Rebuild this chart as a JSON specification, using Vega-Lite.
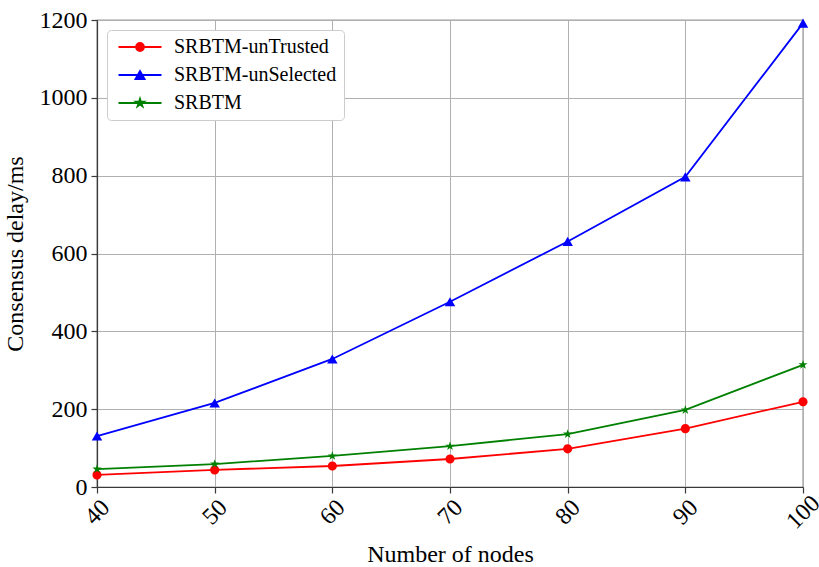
{
  "$schema": "https://vega.github.io/schema/vega-lite/v6.json",
  "width": 706,
  "height": 467,
  "autosize": {"type": "none"},
  "padding": {"left": 97, "top": 20, "right": 16, "bottom": 80},
  "background": "white",
  "config": {
    "font": "Liberation Serif",
    "style": {
      "guide-label": {"font": "Liberation Serif", "fill": "#000000"},
      "guide-title": {"font": "Liberation Serif"}
    },
    "view": {"stroke": "#3a3a3a", "strokeWidth": 1.2},
    "axis": {
      "grid": true,
      "gridColor": "#b0b0b0",
      "gridWidth": 1,
      "domainColor": "#3a3a3a",
      "domainWidth": 1.2,
      "tickColor": "#3a3a3a",
      "tickSize": 6,
      "tickWidth": 1.2,
      "titleFont": "Liberation Serif",
      "titleFontSize": 24,
      "titleFontWeight": "normal",
      "titleColor": "#000000",
      "labelFlush": false,
      "labelOverlap": false,
      "labelBound": false
    },
    "legend": {
      "title": null,
      "orient": "top-left",
      "offset": 10,
      "padding": 7,
      "fillColor": "#ffffff",
      "strokeColor": "#cccccc",
      "cornerRadius": 4,
      "labelFont": "Liberation Serif",
      "labelFontSize": 20,
      "labelColor": "#000000",
      "labelLimit": 400,
      "symbolSize": 100,
      "symbolStrokeWidth": 1.8,
      "symbolOffset": 16,
      "labelOffset": 24,
      "rowPadding": 8
    }
  },
  "data": {
    "values": [
      {"nodes": 40, "series": "SRBTM-unTrusted", "delay": 31},
      {"nodes": 50, "series": "SRBTM-unTrusted", "delay": 44},
      {"nodes": 60, "series": "SRBTM-unTrusted", "delay": 54},
      {"nodes": 70, "series": "SRBTM-unTrusted", "delay": 72},
      {"nodes": 80, "series": "SRBTM-unTrusted", "delay": 98},
      {"nodes": 90, "series": "SRBTM-unTrusted", "delay": 150},
      {"nodes": 100, "series": "SRBTM-unTrusted", "delay": 219},
      {"nodes": 40, "series": "SRBTM-unSelected", "delay": 131},
      {"nodes": 50, "series": "SRBTM-unSelected", "delay": 216},
      {"nodes": 60, "series": "SRBTM-unSelected", "delay": 329},
      {"nodes": 70, "series": "SRBTM-unSelected", "delay": 476},
      {"nodes": 80, "series": "SRBTM-unSelected", "delay": 631},
      {"nodes": 90, "series": "SRBTM-unSelected", "delay": 797},
      {"nodes": 100, "series": "SRBTM-unSelected", "delay": 1192},
      {"nodes": 40, "series": "SRBTM", "delay": 46},
      {"nodes": 50, "series": "SRBTM", "delay": 59},
      {"nodes": 60, "series": "SRBTM", "delay": 80},
      {"nodes": 70, "series": "SRBTM", "delay": 105},
      {"nodes": 80, "series": "SRBTM", "delay": 136},
      {"nodes": 90, "series": "SRBTM", "delay": 198},
      {"nodes": 100, "series": "SRBTM", "delay": 314}
    ]
  },
  "encoding": {
    "x": {
      "field": "nodes",
      "type": "quantitative",
      "scale": {"domain": [40, 100], "nice": false, "zero": false},
      "axis": {
        "title": "Number of nodes",
        "values": [40, 50, 60, 70, 80, 90, 100],
        "format": "d",
        "labelFont": "Liberation Serif",
        "labelFontSize": 24,
        "labelColor": "#000000",
        "labelAngle": -45,
        "labelAlign": "center",
        "labelBaseline": "middle",
        "labelPadding": 19,
        "titlePadding": 9,
        "encode": {
          "labels": {
            "font": {"value": "Liberation Serif"},
            "fontSize": {"value": 24}
          }
        }
      }
    },
    "y": {
      "field": "delay",
      "type": "quantitative",
      "scale": {"domain": [0, 1200], "nice": false},
      "axis": {
        "title": "Consensus delay/ms",
        "values": [0, 200, 400, 600, 800, 1000, 1200],
        "format": "d",
        "labelFont": "Liberation Serif",
        "labelFontSize": 24,
        "labelColor": "#000000",
        "labelPadding": 4,
        "titlePadding": 12,
        "encode": {
          "labels": {
            "font": {"value": "Liberation Serif"},
            "fontSize": {"value": 24}
          }
        }
      }
    }
  },
  "layer": [
    {
      "mark": {"type": "line", "strokeWidth": 1.8},
      "encoding": {
        "stroke": {
          "field": "series",
          "type": "nominal",
          "scale": {
            "domain": ["SRBTM-unTrusted", "SRBTM-unSelected", "SRBTM"],
            "range": ["#ff0000", "#0000ff", "#008000"]
          },
          "legend": {"labelExpr": "datum.label + '   '"}
        }
      }
    },
    {
      "mark": {"type": "point", "filled": true, "opacity": 1, "strokeWidth": 0, "size": 130},
      "encoding": {
        "fill": {
          "field": "series",
          "type": "nominal",
          "scale": {
            "domain": ["SRBTM-unTrusted", "SRBTM-unSelected", "SRBTM"],
            "range": ["#ff0000", "#0000ff", "#008000"]
          },
          "legend": {"labelExpr": "datum.label + '   '"}
        },
        "shape": {
          "field": "series",
          "type": "nominal",
          "scale": {
            "domain": ["SRBTM-unTrusted", "SRBTM-unSelected", "SRBTM"],
            "range": [
              "M-4.3,0H4.3M-0.8,0A0.8,0.8 0 1,1 0.8,0A0.8,0.8 0 1,1 -0.8,0Z",
              "M-4.3,0H4.3M0,-0.8L0.92,0.8L-0.92,0.8Z",
              "M-4.3,0H4.3M0,-0.85L0.19,-0.26L0.81,-0.26L0.31,0.1L0.5,0.69L0,0.32L-0.5,0.69L-0.31,0.1L-0.81,-0.26L-0.19,-0.26Z"
            ]
          },
          "legend": {"labelExpr": "datum.label + '   '"}
        }
      }
    }
  ]
}
